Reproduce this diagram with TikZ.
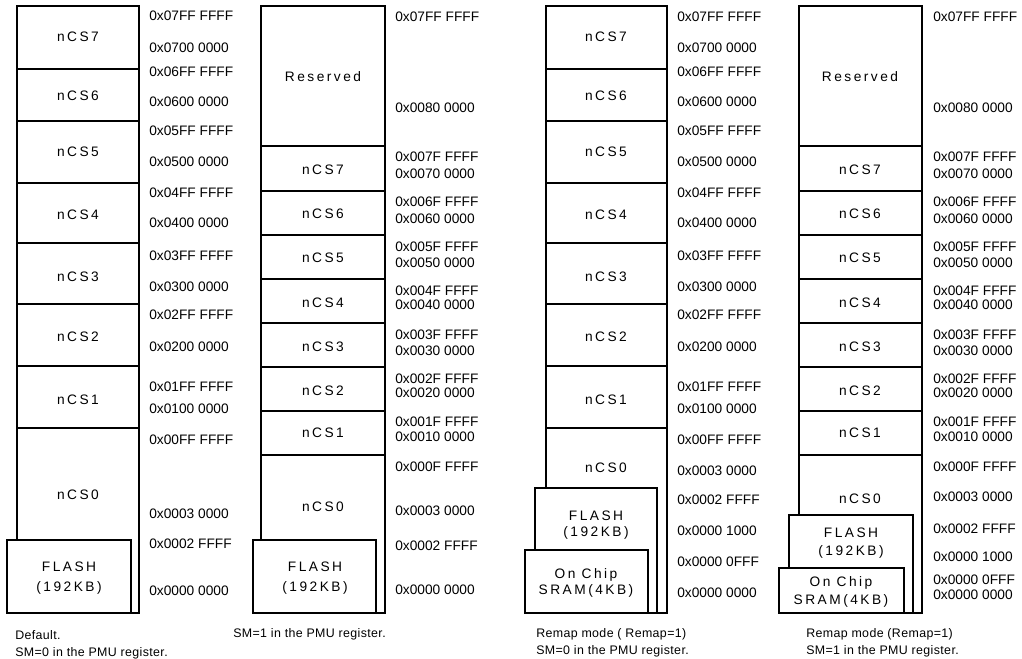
\documentclass[tikz,border=0pt]{standalone}
\usepackage{fontspec}
\setmainfont{Liberation Sans}
\newfontfamily\spacedfont[LetterSpace=18]{Liberation Sans}
\newfontfamily\capfont[LetterSpace=3]{Liberation Sans}
\begin{document}
\begin{tikzpicture}[x=0.75pt,y=-0.75pt,
  box/.style={draw=black, line width=1.5pt, fill=white},
  divider/.style={draw=black, line width=1.5pt},
  addr/.style={anchor=west, inner sep=0pt, font=\fontsize{10.3}{12}\selectfont},
  lbl/.style={inner sep=0pt, align=center, font=\spacedfont\fontsize{10.3}{12}\selectfont},
  captext/.style={anchor=north west, inner sep=0pt, align=left, font=\capfont\fontsize{9.3}{12.75}\selectfont}]
\useasboundingbox (0,0) rectangle (1022,659);

% ---------------- column 1 ----------------
\draw[box] (17,6) rectangle (139,613);
\foreach \y in {69,121,183,243,304,366,428} \draw[divider] (17,\y) -- (139,\y);
\draw[box] (7,540) rectangle (131,613);
\foreach \y/\t [count=\i] in {37/nCS7,96/nCS6,152/nCS5,215/nCS4,277/nCS3,337/nCS2,400/nCS1,495/nCS0}
  \node[lbl] (a\i) at (78,\y) {\t};
\node[lbl] (aflash) at (69,578) {FLASH\\[3pt](192KB)};
\foreach \y/\t [count=\i] in {16/0x07FF FFFF,48/0x0700 0000,72/0x06FF FFFF,102/0x0600 0000,
  131/0x05FF FFFF,162/0x0500 0000,193/0x04FF FFFF,223/0x0400 0000,256/0x03FF FFFF,
  287/0x0300 0000,315/0x02FF FFFF,347/0x0200 0000,387/0x01FF FFFF,409/0x0100 0000,
  440/0x00FF FFFF,514/0x0003 0000,544/0x0002 FFFF,591/0x0000 0000}
  \node[addr] (aa\i) at (149,\y) {\t};
\node[captext] (acap) at (15,630) {Default.\\SM=0 in the PMU register.};

% ---------------- column 2 ----------------
\draw[box] (261,6) rectangle (385,613);
\foreach \y in {146,191,235,279,323,367,411,455} \draw[divider] (261,\y) -- (385,\y);
\draw[box] (253,540) rectangle (376,613);
\node[lbl] (bres) at (323,77) {Reserved};
\foreach \y/\t [count=\i] in {170/nCS7,214/nCS6,258/nCS5,303/nCS4,347/nCS3,391/nCS2,433/nCS1,507/nCS0}
  \node[lbl] (b\i) at (323,\y) {\t};
\node[lbl] (bflash) at (315,578) {FLASH\\[3pt](192KB)};
\foreach \y/\t [count=\i] in {17/0x07FF FFFF,108/0x0080 0000,157/0x007F FFFF,174/0x0070 0000,
  202/0x006F FFFF,219/0x0060 0000,247/0x005F FFFF,263/0x0050 0000,291/0x004F FFFF,
  305/0x0040 0000,335/0x003F FFFF,351/0x0030 0000,379/0x002F FFFF,393/0x0020 0000,
  422/0x001F FFFF,437/0x0010 0000,467/0x000F FFFF,511/0x0003 0000,546/0x0002 FFFF,
  590/0x0000 0000}
  \node[addr] (ba\i) at (395,\y) {\t};
\node[captext] (bcap) at (233,628) {SM=1 in the PMU register.};

% ---------------- column 3 ----------------
\draw[box] (546,6) rectangle (667,613);
\foreach \y in {69,121,183,243,304,366,428} \draw[divider] (546,\y) -- (667,\y);
\draw[box] (535,488) rectangle (657,613);
\draw[box] (525,550) rectangle (648,613);
\foreach \y/\t [count=\i] in {37/nCS7,96/nCS6,152/nCS5,215/nCS4,277/nCS3,337/nCS2,400/nCS1,468/nCS0}
  \node[lbl] (c\i) at (606,\y) {\t};
\node[lbl] (cflash) at (596,525) {FLASH\\(192KB)};
\node[lbl] (csram) at (586,583) {On Chip\\[-0.5pt]SRAM(4KB)};
\foreach \y/\t [count=\i] in {17/0x07FF FFFF,48/0x0700 0000,72/0x06FF FFFF,102/0x0600 0000,
  131/0x05FF FFFF,162/0x0500 0000,193/0x04FF FFFF,223/0x0400 0000,256/0x03FF FFFF,
  287/0x0300 0000,315/0x02FF FFFF,347/0x0200 0000,387/0x01FF FFFF,409/0x0100 0000,
  440/0x00FF FFFF,471/0x0003 0000,500/0x0002 FFFF,531/0x0000 1000,562/0x0000 0FFF,
  593/0x0000 0000}
  \node[addr] (ca\i) at (677,\y) {\t};
\node[captext] (ccap) at (536,628) {Remap mode ( Remap=1)\\SM=0 in the PMU register.};

% ---------------- column 4 ----------------
\draw[box] (799,6) rectangle (922,613);
\foreach \y in {146,191,235,279,323,367,411,455} \draw[divider] (799,\y) -- (922,\y);
\draw[box] (789,515) rectangle (913,613);
\draw[box] (779,568) rectangle (904,613);
\node[lbl] (dres) at (860,77) {Reserved};
\foreach \y/\t [count=\i] in {170/nCS7,214/nCS6,258/nCS5,303/nCS4,347/nCS3,391/nCS2,433/nCS1,499/nCS0}
  \node[lbl] (d\i) at (860,\y) {\t};
\node[lbl] (dflash) at (851,543) {FLASH\\[2pt](192KB)};
\node[lbl] (dsram) at (841,592) {On Chip\\[1pt]SRAM(4KB)};
\foreach \y/\t [count=\i] in {17/0x07FF FFFF,108/0x0080 0000,157/0x007F FFFF,174/0x0070 0000,
  202/0x006F FFFF,219/0x0060 0000,247/0x005F FFFF,263/0x0050 0000,291/0x004F FFFF,
  305/0x0040 0000,335/0x003F FFFF,351/0x0030 0000,379/0x002F FFFF,393/0x0020 0000,
  422/0x001F FFFF,437/0x0010 0000,467/0x000F FFFF,497/0x0003 0000,529/0x0002 FFFF,
  557/0x0000 1000,580/0x0000 0FFF,595/0x0000 0000}
  \node[addr] (da\i) at (933,\y) {\t};
\node[captext] (dcap) at (806,628) {Remap mode (Remap=1)\\SM=1 in the PMU register.};
\end{tikzpicture}
\end{document}
